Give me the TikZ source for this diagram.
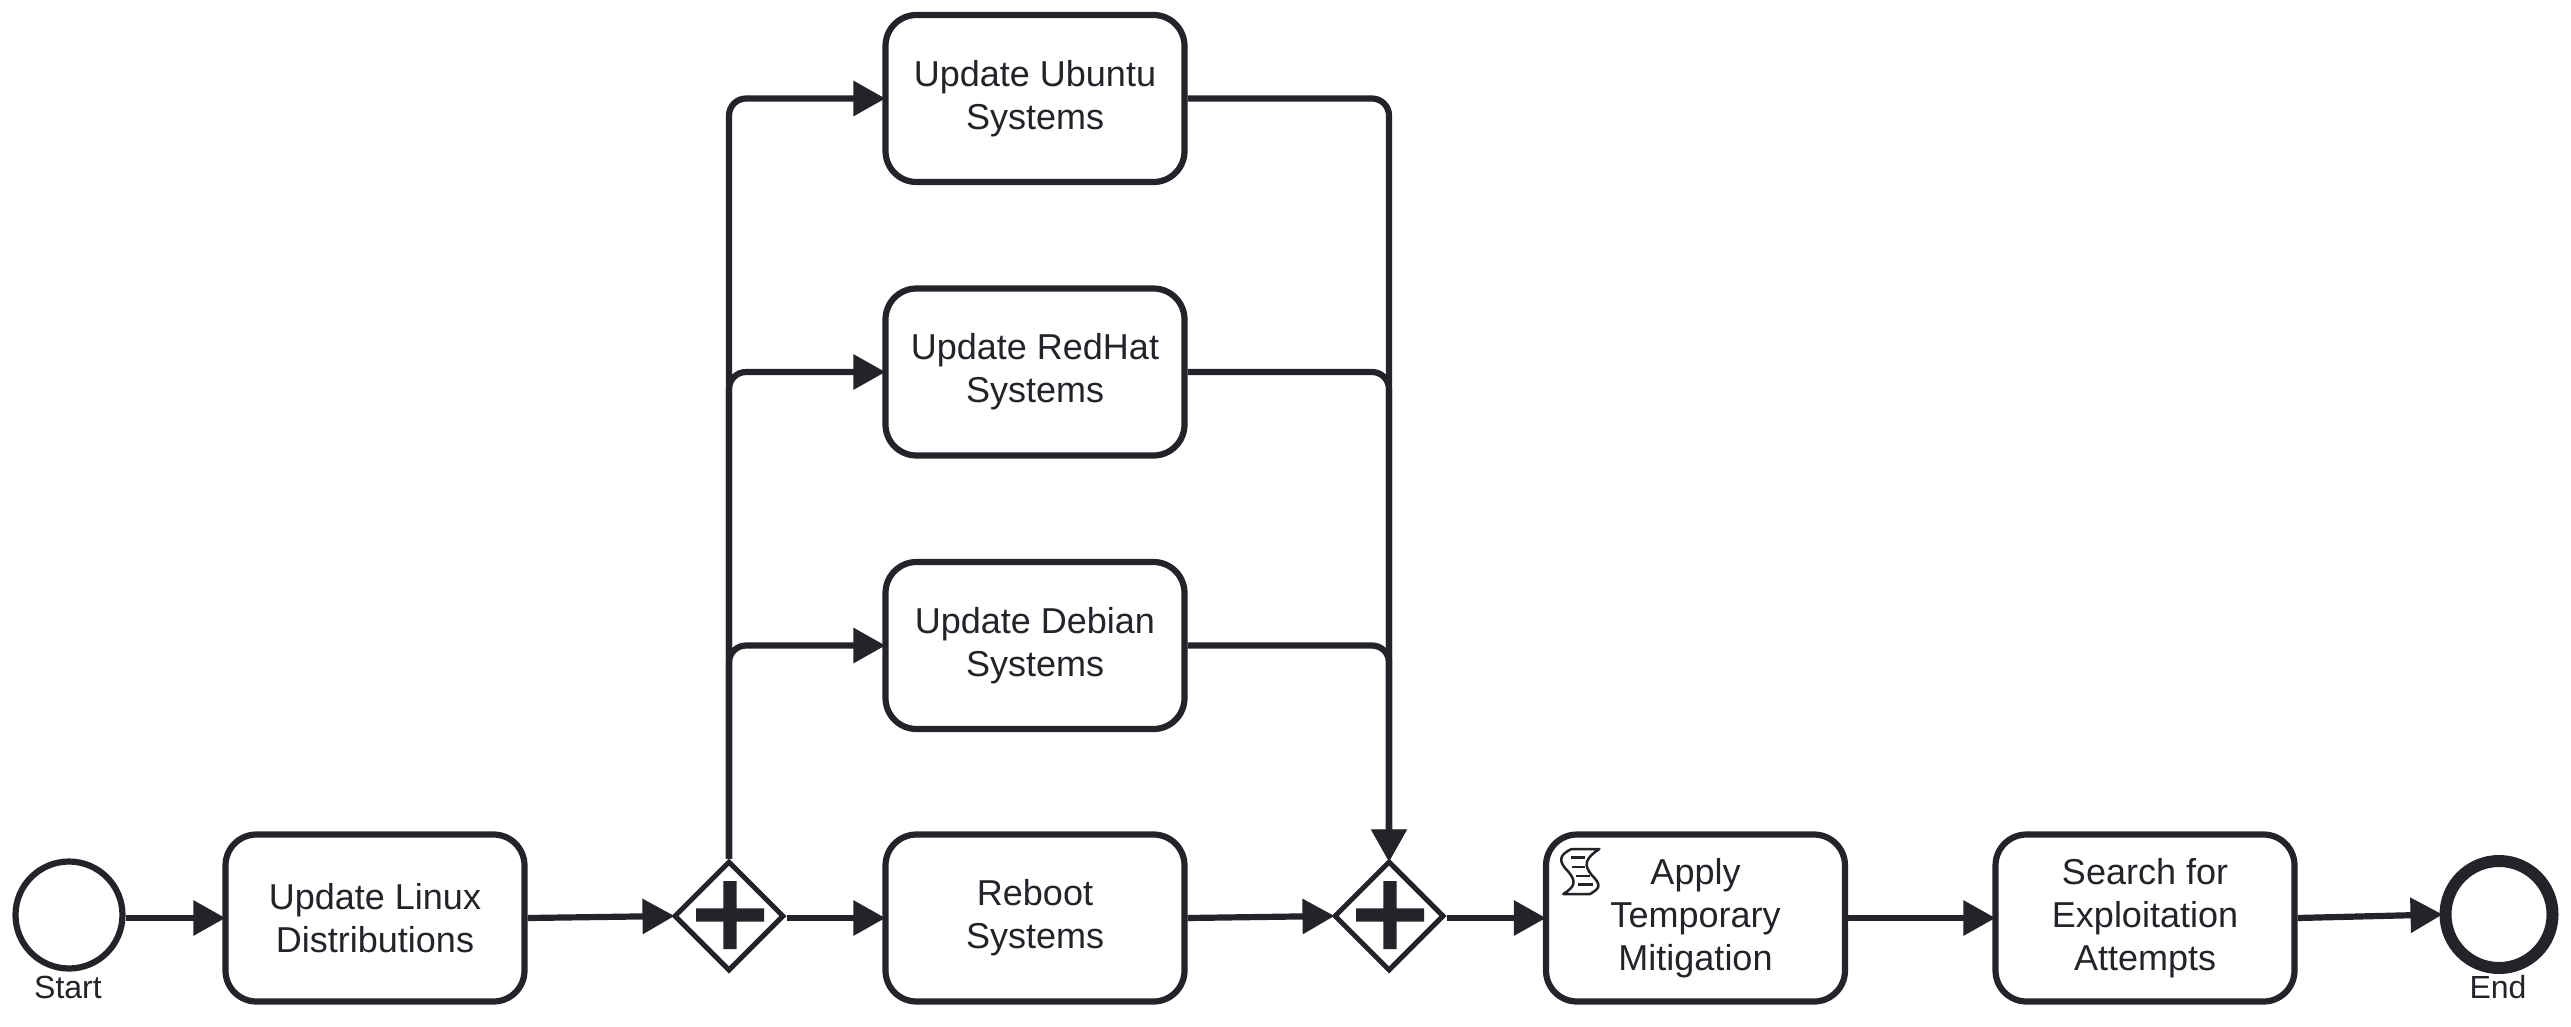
\documentclass[tikz,border=0pt]{standalone}
\usepackage{fontspec}
\setmainfont{Liberation Sans}
\usetikzlibrary{arrows.meta,shapes.geometric}
\definecolor{ink}{HTML}{22242A}
\newcommand{\linestrut}{\rule[1pt]{0pt}{43pt}}
\tikzset{
  x=1pt,y=-1pt,
  bpmntask/.style={draw=ink,fill=white,line width=6.2pt,rounded corners=31pt,minimum width=299pt,minimum height=167pt,inner sep=0pt,align=center,text=ink,font=\fontsize{36}{43}\selectfont,execute at begin node=\linestrut,execute at end node=\linestrut},
  gate/.style={draw=ink,fill=white,line width=5pt,diamond,aspect=1,inner sep=0pt,minimum width=110pt,minimum height=110pt},
  startev/.style={draw=ink,fill=white,line width=6.2pt,circle,inner sep=0pt,minimum size=107pt},
  endev/.style={draw=ink,fill=white,line width=12pt,circle,inner sep=0pt,minimum size=107pt},
  evlabel/.style={text=ink,inner sep=0pt,font=\fontsize{32}{38}\selectfont,anchor=base},
  flow/.style={draw=ink,line width=6.2pt,shorten >=-3pt,-{Triangle[length=32pt,width=34pt]}},
  bentflow/.style={flow,rounded corners=17pt},
  iconline/.style={draw=ink,line width=2.5pt,line join=round}
}
\newcommand{\plusmark}[1]{\fill[ink,shift={(#1.center)}] (-33,-7.7) rectangle (35,5.7) (-5.7,-35) rectangle (7.7,33);}
\begin{document}
\begin{tikzpicture}
\useasboundingbox (0,0) rectangle (2571,1026);
\node[startev] (start) at (69,915) {};
\node[bpmntask] (t1) at (375,918) {Update Linux\\Distributions};
\node[gate] (g1) at (729,916) {};
\node[bpmntask] (u) at (1035,98.5) {Update Ubuntu\\Systems};
\node[bpmntask] (r) at (1035,372) {Update RedHat\\Systems};
\node[bpmntask] (d) at (1035,645.5) {Update Debian\\Systems};
\node[bpmntask] (b) at (1035,918) {Reboot\\Systems};
\node[gate] (g2) at (1389,916) {};
\node[bpmntask] (a) at (1695.5,918) {Apply\\Temporary\\Mitigation};
\node[bpmntask] (s) at (2145,918) {Search for\\Exploitation\\Attempts};
\node[endev] (end) at (2499,914.5) {};
\node[evlabel] (startl) at (68,998) {Start};
\node[evlabel] (endl) at (2498,998) {End};
\plusmark{g1}
\plusmark{g2}
\draw[flow] (start.east |- t1.west) -- (t1.west);
\draw[flow] (t1.east) -- (g1.west);
\draw[bentflow] (g1.north) |- (u.west);
\draw[bentflow] (g1.north) |- (r.west);
\draw[bentflow] (g1.north) |- (d.west);
\draw[flow] (g1.east |- b.west) -- (b.west);
\draw[bentflow] (u.east) -| (g2.north);
\draw[bentflow] (r.east) -| (g2.north);
\draw[bentflow] (d.east) -| (g2.north);
\draw[flow] (b.east) -- (g2.west);
\draw[flow] (g2.east |- a.west) -- (a.west);
\draw[flow] (a.east) -- (s.west);
\draw[flow] (s.east) -- (end.west);
\begin{scope}[shift={(1500,820)},x=0.3333pt,y=-0.3333pt]
\draw[iconline] (215,87) -- (298,87) .. controls (255,115) and (250,135) .. (275,165) .. controls (305,195) and (300,205) .. (270,222) -- (190,222) .. controls (225,200) and (230,185) .. (205,155) .. controls (175,125) and (175,105) .. (215,87) -- cycle;
\draw[iconline] (213,113) -- (255,113);
\draw[iconline] (215,141) -- (255,141);
\draw[iconline] (228,168) -- (270,168);
\draw[iconline] (235,194) -- (280,194);
\end{scope}
\end{tikzpicture}
\end{document}
